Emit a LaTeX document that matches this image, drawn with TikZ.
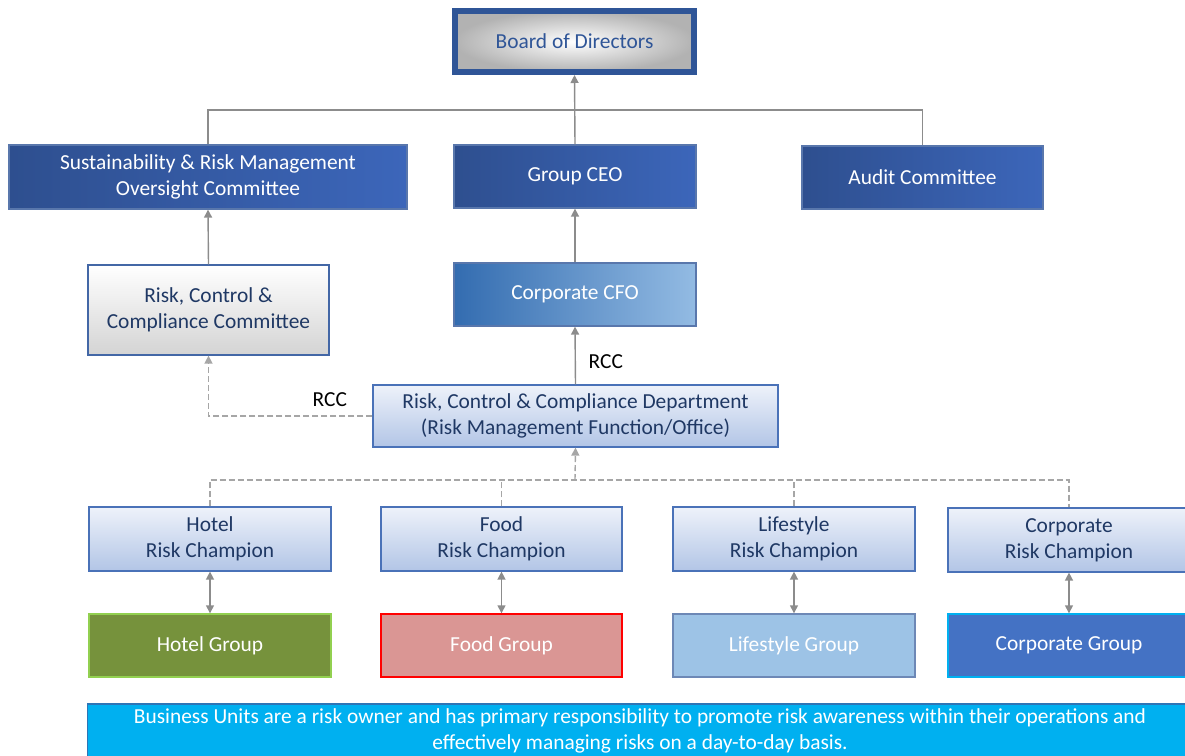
\documentclass[tikz,border=0pt]{standalone}
\usepackage{fontspec}
\setmainfont{Carlito}
\usepackage{tikz}
\usetikzlibrary{arrows.meta,positioning,calc,shapes}
\definecolor{navy}{HTML}{1F3864}
\definecolor{boardblue}{HTML}{2F5597}
\definecolor{darkA}{HTML}{2E4F8F}
\definecolor{darkB}{HTML}{3C66BA}
\definecolor{paleA}{HTML}{EEF2FA}
\definecolor{paleB}{HTML}{B2C5E6}
\definecolor{paleline}{HTML}{4A72B8}
\definecolor{linegray}{HTML}{8C8C8C}
\definecolor{dashgray}{HTML}{A6A6A6}
\definecolor{cfoA}{HTML}{336CB0}
\definecolor{cfoB}{HTML}{93BBE3}
\tikzset{box/.style={rectangle,inner sep=0pt,align=center,font=\fontsize{10.7}{13}\selectfont},
  darkbox/.style={box,draw=boardblue!80,line width=0.6pt,left color=darkA,right color=darkB,text=white},
  palebox/.style={box,draw=paleline,line width=0.6pt,top color=paleA,bottom color=paleB,text=navy},
  groupbox/.style={box,line width=0.7pt,text=white},
  conn/.style={draw=linegray,line width=0.7pt},
  dconn/.style={draw=dashgray,line width=0.7pt,dash pattern=on 3pt off 1.5pt},
  tip/.style={-{Triangle[length=4pt,width=4pt]}},
  dtip/.style={{Triangle[length=4pt,width=4pt]}-{Triangle[length=4pt,width=4pt]}}}

\begin{document}
\begin{tikzpicture}[x=0.5pt,y=-0.5pt,>=Triangle]
\useasboundingbox (0,0) rectangle (1185,756);

\node[box,draw=boardblue,line width=3pt,inner color=white,outer color=black!30,shading=radial,text=boardblue,
  minimum width=119.5pt,minimum height=30.5pt] (board) at (574.5,41.5) {Board of Directors};

\node[darkbox,minimum width=199pt,minimum height=32pt] (sust) at (208,177) {Sustainability \& Risk Management\\Oversight Committee};
\node[darkbox,minimum width=121pt,minimum height=31.5pt] (ceo) at (575,176.5) {Group CEO};
\node[darkbox,minimum width=120.5pt,minimum height=31.5pt] (audit) at (922.5,177.5) {Audit Committee};

\node[box,draw=paleline!90!black,line width=0.6pt,top color=white,bottom color=black!17,text=navy,
  minimum width=120.5pt,minimum height=45pt] (rccc) at (208.5,310) {Risk, Control \&\\Compliance Committee};
\node[box,draw=boardblue!80,line width=0.6pt,left color=cfoA,right color=cfoB,text=white,
  minimum width=121pt,minimum height=31.5pt] (cfo) at (575,294.5) {Corporate CFO};

\node[palebox,minimum width=202.5pt,minimum height=31pt] (dept) at (575.5,416) {Risk, Control \& Compliance Department\\(Risk Management Function/Office)};

\node[palebox,minimum width=121pt,minimum height=32pt] (hotelrc) at (210,539) {Hotel\\Risk Champion};
\node[palebox,minimum width=120.5pt,minimum height=32pt] (foodrc) at (501.5,539) {Food\\Risk Champion};
\node[palebox,minimum width=121pt,minimum height=32pt] (liferc) at (794,539) {Lifestyle\\Risk Champion};
\node[palebox,minimum width=121pt,minimum height=32pt] (corprc) at (1069,540) {Corporate\\Risk Champion};

\node[groupbox,fill={rgb,255:red,118;green,146;blue,60},draw={rgb,255:red,146;green,208;blue,80},minimum width=121pt,minimum height=31.5pt] (hotelg) at (210,645.5) {Hotel Group};
\node[groupbox,fill={rgb,255:red,218;green,150;blue,148},draw=red,minimum width=120.5pt,minimum height=31.5pt] (foodg) at (501.5,645.5) {Food Group};
\node[groupbox,fill={rgb,255:red,157;green,195;blue,230},draw=boardblue!70,minimum width=121pt,minimum height=31.5pt] (lifeg) at (794,645.5) {Lifestyle Group};
\node[groupbox,fill={rgb,255:red,68;green,114;blue,196},draw={rgb,255:red,0;green,176;blue,240},minimum width=121pt,minimum height=31.5pt] (corpg) at (1069,645.5) {Corporate Group};

\node[box,fill={rgb,255:red,0;green,176;blue,240},draw={rgb,255:red,46;green,117;blue,182},line width=0.7pt,text=white,
  minimum width=552.5pt,minimum height=27pt] (note) at (640,731) {Business Units are a risk owner and has primary responsibility to promote risk awareness within their operations and\\effectively managing risks on a day-to-day basis.};

% upper links
\coordinate (tbar) at (575,110);
\draw[conn] (sust.north) |- (tbar) -| (audit.north);
\draw[conn,tip] (ceo.north) -- (board.south);
\draw[conn,tip] (cfo.north) -- (ceo.south);
\draw[conn,tip] (rccc.north) -- (sust.south);
\draw[conn,tip] (dept.north) -- (cfo.south) node[pos=0.4,right=3pt,font=\fontsize{10.7}{13}\selectfont] (lbla) {RCC};
\draw[dconn,tip] (dept.west) -| (rccc.south) node[pos=0.13,above=1pt,font=\fontsize{10.7}{13}\selectfont] (lblb) {RCC};

% champions
\coordinate (bus) at (575,480);
\draw[dconn] (hotelrc.north) |- (bus) -| (corprc.north);
\draw[dconn] (foodrc.north) -- (foodrc.north |- bus);
\draw[dconn] (liferc.north) -- (liferc.north |- bus);
\draw[dconn,tip] (bus) -- (dept.south);

\foreach \rc/\gr in {hotelrc/hotelg,foodrc/foodg,liferc/lifeg,corprc/corpg}
  \draw[conn,dtip] (\rc.south) -- (\gr.north);
\end{tikzpicture}
\end{document}
